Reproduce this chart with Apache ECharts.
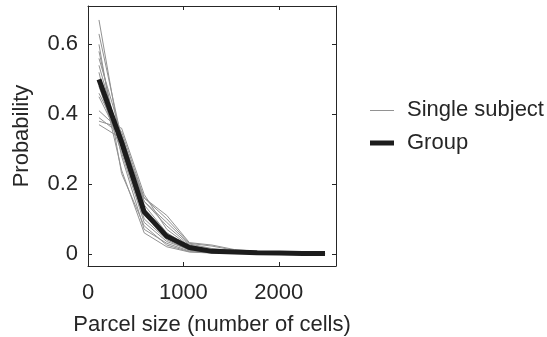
<!DOCTYPE html>
<html>
<head>
<meta charset="utf-8">
<script src="https://cdn.jsdelivr.net/npm/echarts@6/dist/echarts.min.js"></script>
<style>
html,body{margin:0;padding:0;background:#fff;}
#chart{width:547px;height:337px;}
</style>
</head>
<body>
<div id="chart"></div>
<script>
// Parcel size bin centres (number of cells)
var parcelSizes = [115, 352, 589, 826, 1063, 1300, 1537, 1774, 2011, 2248, 2485];
// Group-average probability
var groupProb = [0.50, 0.32, 0.12, 0.05, 0.018, 0.007, 0.005, 0.003, 0.002, 0.001, 0.001];
// Single-subject probabilities
var subj01 = [0.67, 0.30, 0.10, 0.040, 0.010, 0.004, 0.003, 0.002, 0.001, 0.000, 0.000];
var subj02 = [0.63, 0.33, 0.11, 0.050, 0.015, 0.006, 0.004, 0.002, 0.001, 0.001, 0.000];
var subj03 = [0.58, 0.28, 0.07, 0.030, 0.008, 0.004, 0.003, 0.001, 0.001, 0.000, 0.000];
var subj04 = [0.56, 0.34, 0.14, 0.060, 0.020, 0.010, 0.006, 0.004, 0.002, 0.001, 0.001];
var subj05 = [0.54, 0.31, 0.12, 0.045, 0.015, 0.005, 0.004, 0.003, 0.001, 0.001, 0.000];
var subj06 = [0.52, 0.24, 0.06, 0.020, 0.005, 0.002, 0.002, 0.001, 0.000, 0.000, 0.000];
var subj07 = [0.46, 0.33, 0.15, 0.080, 0.025, 0.012, 0.008, 0.005, 0.003, 0.002, 0.001];
var subj08 = [0.45, 0.32, 0.13, 0.060, 0.020, 0.008, 0.006, 0.003, 0.002, 0.001, 0.000];
var subj09 = [0.41, 0.35, 0.16, 0.100, 0.030, 0.022, 0.010, 0.006, 0.003, 0.002, 0.001];
var subj10 = [0.39, 0.34, 0.15, 0.090, 0.028, 0.015, 0.009, 0.004, 0.002, 0.001, 0.001];
var subj11 = [0.38, 0.36, 0.17, 0.070, 0.022, 0.010, 0.007, 0.004, 0.002, 0.001, 0.000];
var subj12 = [0.37, 0.33, 0.16, 0.110, 0.032, 0.025, 0.012, 0.007, 0.004, 0.002, 0.001];
var subj13 = [0.60, 0.23, 0.08, 0.025, 0.006, 0.003, 0.002, 0.001, 0.000, 0.000, 0.000];
var subj14 = [0.48, 0.29, 0.09, 0.035, 0.012, 0.005, 0.003, 0.002, 0.001, 0.000, 0.000];
var subjects = [subj01, subj02, subj03, subj04, subj05, subj06, subj07, subj08, subj09, subj10, subj11, subj12, subj13, subj14];
// Tick labels
var xTicks = [0, 1000, 2000];
var yTicks = [0, 0.2, 0.4, 0.6];
var xTitle = 'Parcel size (number of cells)';
var yTitle = 'Probability';
var subjName = 'Single subject';
var groupName = 'Group';

var FONT = '"Liberation Sans", Arial, Helvetica, sans-serif';
var FS = 22;
var TXT = '#262626';
var AX = '#262626';
var GRAY = '#929292';
var DARK = '#1c1c1c';

function pairs(vals) { return parcelSizes.map(function (x, i) { return [x, vals[i]]; }); }

var series = subjects.map(function (s) {
  return { name: subjName, type: 'line', data: pairs(s), symbol: 'none', z: 2,
    itemStyle: { color: GRAY }, lineStyle: { color: GRAY, width: 1 } };
});
series.push({ name: groupName, type: 'line', data: pairs(groupProb), symbol: 'none', z: 3,
  itemStyle: { color: DARK }, lineStyle: { color: DARK, width: 5 } });

function baseX(pos, labels) {
  return { type: 'value', position: pos, min: 0, max: 2600,
    axisLine: { show: true, onZero: false, lineStyle: { color: AX, width: 1 } },
    axisTick: { show: true, inside: true, length: 4, customValues: xTicks, lineStyle: { color: AX } },
    axisLabel: { show: labels, customValues: xTicks, margin: 16, fontSize: FS, fontFamily: FONT, color: TXT,
      formatter: function (v) { return String(Math.round(v)); } },
    splitLine: { show: false } };
}
function baseY(pos, labels) {
  return { type: 'value', position: pos, min: -0.035, max: 0.71,
    axisLine: { show: true, onZero: false, lineStyle: { color: AX, width: 1 } },
    axisTick: { show: true, inside: true, length: 4, customValues: yTicks, lineStyle: { color: AX } },
    axisLabel: { show: labels, customValues: yTicks, margin: 10, fontSize: FS, fontFamily: FONT, color: TXT,
      formatter: function (v) { return String(Math.round(v * 10) / 10); } },
    splitLine: { show: false } };
}

var xb = baseX('bottom', true);
xb.name = xTitle; xb.nameLocation = 'middle'; xb.nameGap = 48;
xb.nameTextStyle = { fontSize: FS, fontFamily: FONT, color: TXT };
var yl = baseY('left', true);
yl.name = yTitle; yl.nameLocation = 'middle'; yl.nameGap = 55;
yl.nameTextStyle = { fontSize: FS, fontFamily: FONT, color: TXT };

var chart = echarts.init(document.getElementById('chart'), null, { renderer: 'canvas' });
chart.setOption({
  animation: false,
  backgroundColor: '#ffffff',
  grid: { left: 88, top: 6, right: 211, bottom: 71, containLabel: false, outerBoundsMode: 'none' },
  xAxis: [xb, baseX('top', false)],
  yAxis: [yl, baseY('right', false)],
  graphic: [
    { type: 'line', shape: { x1: 370, y1: 110.5, x2: 394, y2: 110.5 }, style: { stroke: GRAY, lineWidth: 1 } },
    { type: 'text', x: 407, y: 110, style: { text: subjName, fontSize: FS, fontFamily: FONT, fill: TXT, textVerticalAlign: 'middle', verticalAlign: 'middle' } },
    { type: 'line', shape: { x1: 370, y1: 143, x2: 394, y2: 143 }, style: { stroke: DARK, lineWidth: 5 } },
    { type: 'text', x: 407, y: 143, style: { text: groupName, fontSize: FS, fontFamily: FONT, fill: TXT, textVerticalAlign: 'middle', verticalAlign: 'middle' } }
  ],
  series: series
});
</script>
</body>
</html>
